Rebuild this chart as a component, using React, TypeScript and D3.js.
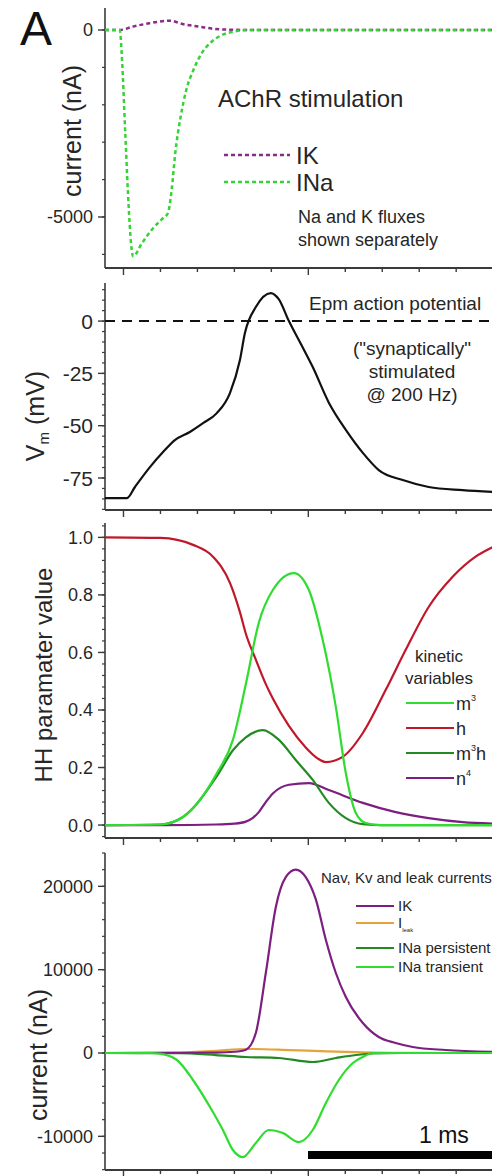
import React from "react";
import * as d3 from "d3";

// time in ms
const achrIK: [number, number][] = [[0, 0], [0.08, 0], [0.15, 90], [0.24, 180], [0.35, 250], [0.42, 160], [0.51, 90], [0.6, 25], [0.7, 5], [0.8, 0], [2.11, 0]];
const achrINa: [number, number][] = [[0, 0], [0.08, 0], [0.09, -600], [0.11, -2800], [0.13, -4900], [0.145, -5900], [0.152, -6050], [0.2, -5700], [0.26, -5300], [0.31, -5050], [0.34, -4900], [0.36, -4300], [0.38, -3300], [0.41, -2300], [0.44, -1600], [0.48, -1050], [0.52, -650], [0.58, -300], [0.64, -120], [0.7, -40], [0.76, 0], [2.11, 0]];

const vm: [number, number][] = [[0, -84.6], [0.119, -84.6], [0.162, -79.3], [0.243, -69.8], [0.314, -62.6], [0.378, -56.9], [0.459, -53], [0.53, -48.8], [0.605, -44], [0.676, -34.4], [0.73, -18.6], [0.757, -5.7], [0.816, 6.7], [0.897, 13.4], [0.94, 10.5], [0.995, 0], [1.06, -11], [1.124, -22], [1.211, -39], [1.303, -52], [1.395, -63], [1.481, -71.2], [1.611, -76], [1.751, -79.3], [1.935, -80.8], [2.11, -81.7]];

const hGate: [number, number][] = [[0, 1], [0.3, 0.998], [0.476, 0.974], [0.584, 0.933], [0.676, 0.842], [0.73, 0.74], [0.762, 0.665], [0.816, 0.575], [0.87, 0.49], [0.908, 0.44], [0.995, 0.345], [1.086, 0.27], [1.15, 0.232], [1.195, 0.219], [1.286, 0.237], [1.395, 0.32], [1.519, 0.47], [1.627, 0.609], [1.751, 0.758], [1.881, 0.863], [2.005, 0.933], [2.11, 0.97]];
const m3: [number, number][] = [[0, 0], [0.3, 0.002], [0.422, 0.028], [0.605, 0.18], [0.692, 0.296], [0.762, 0.49], [0.832, 0.703], [0.908, 0.817], [1.022, 0.876], [1.103, 0.817], [1.178, 0.643], [1.249, 0.41], [1.303, 0.18], [1.357, 0.042], [1.411, 0.007], [1.486, 0], [2.11, 0]];
const m3h: [number, number][] = [[0, 0], [0.3, 0.002], [0.422, 0.028], [0.605, 0.17], [0.692, 0.26], [0.762, 0.305], [0.854, 0.33], [0.941, 0.296], [1.032, 0.226], [1.124, 0.157], [1.211, 0.077], [1.303, 0.024], [1.395, 0.003], [1.5, 0], [2.11, 0]];
const n4: [number, number][] = [[0, 0], [0.33, 0], [0.6, 0.002], [0.7, 0.005], [0.762, 0.012], [0.8, 0.025], [0.832, 0.045], [0.87, 0.08], [0.908, 0.11], [0.95, 0.13], [0.995, 0.14], [1.103, 0.146], [1.211, 0.122], [1.395, 0.077], [1.573, 0.045], [1.751, 0.024], [1.935, 0.01], [2.11, 0.005]];

const iK: [number, number][] = [[0, 0], [0.6, 50], [0.7, 150], [0.762, 400], [0.816, 2400], [0.87, 9600], [0.924, 17500], [0.978, 21100], [1.032, 22000], [1.086, 21100], [1.141, 18400], [1.195, 13560], [1.249, 9600], [1.303, 6720], [1.395, 3600], [1.481, 1920], [1.573, 1200], [1.665, 720], [1.843, 360], [2.11, 120]];
const iLeak: [number, number][] = [[0, 0], [0.4, 60], [0.6, 250], [0.72, 450], [0.8, 480], [1.0, 350], [1.2, 200], [1.4, 80], [1.6, 20], [2.11, 0]];
const iNaPersistent: [number, number][] = [[0, 0], [0.4, -30], [0.6, -250], [0.76, -480], [0.94, -600], [1.124, -1080], [1.249, -600], [1.357, -240], [1.45, -60], [1.6, 0], [2.11, 0]];
const iNaTransient: [number, number][] = [[0, 0], [0.25, 0], [0.297, -80], [0.389, -840], [0.476, -3240], [0.568, -6480], [0.638, -9240], [0.692, -11640], [0.746, -12500], [0.816, -10800], [0.886, -9240], [0.962, -9600], [1.049, -10700], [1.124, -9240], [1.195, -6000], [1.265, -3240], [1.341, -1200], [1.395, -480], [1.449, 0], [2.11, 0]];

const xTickValues = d3.range(0, 11).map(i => 0.1 + 0.2 * i);

const FONT = "'Liberation Sans', Arial, sans-serif";
const TXT = "#262626";
const AX = "#3a3a3a";

const x = d3.scaleLinear().domain([0, 2.11]).range([105, 495]);

const lineGen = (y: d3.ScaleLinear<number, number>) =>
  d3.line<[number, number]>()
    .x(d => x(d[0]))
    .y(d => y(d[1]))
    .curve(d3.curveMonotoneX);

type AxisProps = {
  y: d3.ScaleLinear<number, number>;
  majors: number[];
  minors: number[];
  fmt: (v: number) => string;
  fontSize: number;
};

const LeftAxis = ({ y, majors, minors, fmt, fontSize }: AxisProps) => {
  const [y0, y1] = y.range();
  return (
    <g>
      <line x1={105} x2={105} y1={y0} y2={y1} stroke={AX} strokeWidth={1.6} />
      {minors.map((v, i) => (
        <line key={"m" + i} x1={102} x2={105} y1={y(v)} y2={y(v)} stroke={AX} strokeWidth={1.2} />
      ))}
      {majors.map((v, i) => (
        <g key={"M" + i}>
          <line x1={98} x2={105} y1={y(v)} y2={y(v)} stroke={AX} strokeWidth={1.4} />
          <text x={93} y={y(v)} dy="0.36em" textAnchor="end" fontSize={fontSize} fill={TXT}>{fmt(v)}</text>
        </g>
      ))}
    </g>
  );
};

const BottomAxis = ({ yPos }: { yPos: number }) => (
  <g>
    <line x1={105} x2={495} y1={yPos} y2={yPos} stroke={AX} strokeWidth={1.8} />
    {xTickValues.map((t, i) => (
      <line key={i} x1={x(t)} x2={x(t)} y1={yPos} y2={yPos + (i % 5 === 0 ? 7 : 4)} stroke={AX} strokeWidth={1.4} />
    ))}
  </g>
);

const App = () => {
  const y1 = d3.scaleLinear().domain([-6364, 588]).range([268, 8]);
  const y2 = d3.scaleLinear().domain([-90.3, 18.2]).range([510, 283]);
  const y3 = d3.scaleLinear().domain([-0.045, 1.05]).range([838, 523]);
  const y4 = d3.scaleLinear().domain([-14040, 24000]).range([1170, 853]);

  const l1 = lineGen(y1), l2 = lineGen(y2), l3 = lineGen(y3), l4 = lineGen(y4);

  return (
    <svg width={492} height={1176} style={{ position: "absolute", left: 0, top: 0, background: "#fff" }} fontFamily={FONT}>
      <rect x={0} y={0} width={492} height={1176} fill="#fff" />
      <text x={20} y={45} fontSize={48} fill="#111">A</text>

      {/* panel 1: AChR currents */}
      <LeftAxis y={y1} majors={[0, -5000]} minors={d3.range(-6000, 1, 1000)} fmt={v => String(v)} fontSize={18} />
      <BottomAxis yPos={268} />
      <path d={l1(achrIK) || ""} fill="none" stroke="#8a2a8a" strokeWidth={2.5} strokeDasharray="4 3" />
      <path d={l1(achrINa) || ""} fill="none" stroke="#35d335" strokeWidth={2.5} strokeDasharray="4 3" />
      <text transform="translate(81,131) rotate(-90)" textAnchor="middle" fontSize={25} fill={TXT}>current (nA)</text>
      <text x={218} y={107} fontSize={24} fill={TXT}>AChR stimulation</text>
      <line x1={224} x2={290} y1={155} y2={155} stroke="#8a2a8a" strokeWidth={2.5} strokeDasharray="4 3" />
      <line x1={224} x2={290} y1={182} y2={182} stroke="#35d335" strokeWidth={2.5} strokeDasharray="4 3" />
      <text x={296} y={164} fontSize={24} fill={TXT}>IK</text>
      <text x={296} y={191} fontSize={24} fill={TXT}>INa</text>
      <text x={298} y={223} fontSize={18} fill={TXT}>Na and K fluxes</text>
      <text x={298} y={246} fontSize={18} fill={TXT}>shown separately</text>

      {/* panel 2: membrane potential */}
      <LeftAxis y={y2} majors={[0, -25, -50, -75]} minors={d3.range(-90, 18, 5)} fmt={v => String(v)} fontSize={21} />
      <BottomAxis yPos={510} />
      <line x1={105} x2={495} y1={y2(0)} y2={y2(0)} stroke="#111" strokeWidth={2} strokeDasharray="10 7" />
      <path d={l2(vm) || ""} fill="none" stroke="#111" strokeWidth={2.2} />
      <text transform="translate(44,416) rotate(-90)" textAnchor="middle" fontSize={25} fill={TXT}>
        V<tspan fontSize={15} dy={5}>m</tspan><tspan dy={-5}> (mV)</tspan>
      </text>
      <text x={309} y={310} fontSize={19} fill={TXT}>Epm action potential</text>
      <text x={412} y={355} fontSize={19} fill={TXT} textAnchor="middle">("synaptically"</text>
      <text x={412} y={378} fontSize={19} fill={TXT} textAnchor="middle">stimulated</text>
      <text x={412} y={401} fontSize={19} fill={TXT} textAnchor="middle">@ 200 Hz)</text>

      {/* panel 3: HH gating variables */}
      <LeftAxis y={y3} majors={d3.range(0, 1.01, 0.2)} minors={d3.range(-0.04, 1.05, 0.04)} fmt={v => v.toFixed(1)} fontSize={18} />
      <BottomAxis yPos={838} />
      <path d={l3(n4) || ""} fill="none" stroke="#7d1f80" strokeWidth={2.2} />
      <path d={l3(hGate) || ""} fill="none" stroke="#c0182a" strokeWidth={2.2} />
      <path d={l3(m3h) || ""} fill="none" stroke="#238a23" strokeWidth={2.2} />
      <path d={l3(m3) || ""} fill="none" stroke="#2fdc2f" strokeWidth={2.2} />
      <text transform="translate(52,675) rotate(-90)" textAnchor="middle" fontSize={24} fill={TXT}>HH paramater value</text>
      <text x={439} y={662} fontSize={17} fill={TXT} textAnchor="middle">kinetic</text>
      <text x={439} y={684} fontSize={17} fill={TXT} textAnchor="middle">variables</text>
      <line x1={406} x2={454} y1={703} y2={703} stroke="#2fdc2f" strokeWidth={2.2} />
      <line x1={406} x2={454} y1={728} y2={728} stroke="#c0182a" strokeWidth={2.2} />
      <line x1={406} x2={454} y1={753} y2={753} stroke="#238a23" strokeWidth={2.2} />
      <line x1={406} x2={454} y1={778} y2={778} stroke="#7d1f80" strokeWidth={2.2} />
      <text x={456} y={710} fontSize={18} fill={TXT}>m<tspan fontSize={9} dy={-9}>3</tspan></text>
      <text x={456} y={735} fontSize={18} fill={TXT}>h</text>
      <text x={456} y={760} fontSize={18} fill={TXT}>m<tspan fontSize={9} dy={-9}>3</tspan><tspan dy={9}>h</tspan></text>
      <text x={456} y={785} fontSize={18} fill={TXT}>n<tspan fontSize={9} dy={-9}>4</tspan></text>

      {/* panel 4: ionic currents */}
      <LeftAxis y={y4} majors={[-10000, 0, 10000, 20000]} minors={d3.range(-14000, 24001, 2000)} fmt={v => String(v)} fontSize={18} />
      <BottomAxis yPos={1170} />
      <path d={l4(iLeak) || ""} fill="none" stroke="#e5a33a" strokeWidth={2.2} />
      <path d={l4(iNaPersistent) || ""} fill="none" stroke="#238a23" strokeWidth={2.2} />
      <path d={l4(iK) || ""} fill="none" stroke="#7d1f80" strokeWidth={2.2} />
      <path d={l4(iNaTransient) || ""} fill="none" stroke="#2fdc2f" strokeWidth={2.2} />
      <text transform="translate(47,1055) rotate(-90)" textAnchor="middle" fontSize={25} fill={TXT}>current (nA)</text>
      <text x={321} y={883} fontSize={15} fill={TXT}>Nav, Kv and leak currents</text>
      <line x1={356} x2={394} y1={906} y2={906} stroke="#7d1f80" strokeWidth={2.2} />
      <line x1={356} x2={394} y1={923} y2={923} stroke="#e5a33a" strokeWidth={2.2} />
      <line x1={356} x2={394} y1={948} y2={948} stroke="#238a23" strokeWidth={2.2} />
      <line x1={356} x2={394} y1={967} y2={967} stroke="#2fdc2f" strokeWidth={2.2} />
      <text x={398} y={911} fontSize={15} fill={TXT}>IK</text>
      <text x={398} y={928} fontSize={15} fill={TXT}>I<tspan fontSize={6} dy={4}>leak</tspan></text>
      <text x={398} y={953} fontSize={15} fill={TXT}>INa persistent</text>
      <text x={398} y={972} fontSize={15} fill={TXT}>INa transient</text>
      <rect x={308} y={1151} width={187} height={8} fill="#000" />
      <text x={419} y={1143} fontSize={23} fill="#111">1 ms</text>
    </svg>
  );
};

export default App;
